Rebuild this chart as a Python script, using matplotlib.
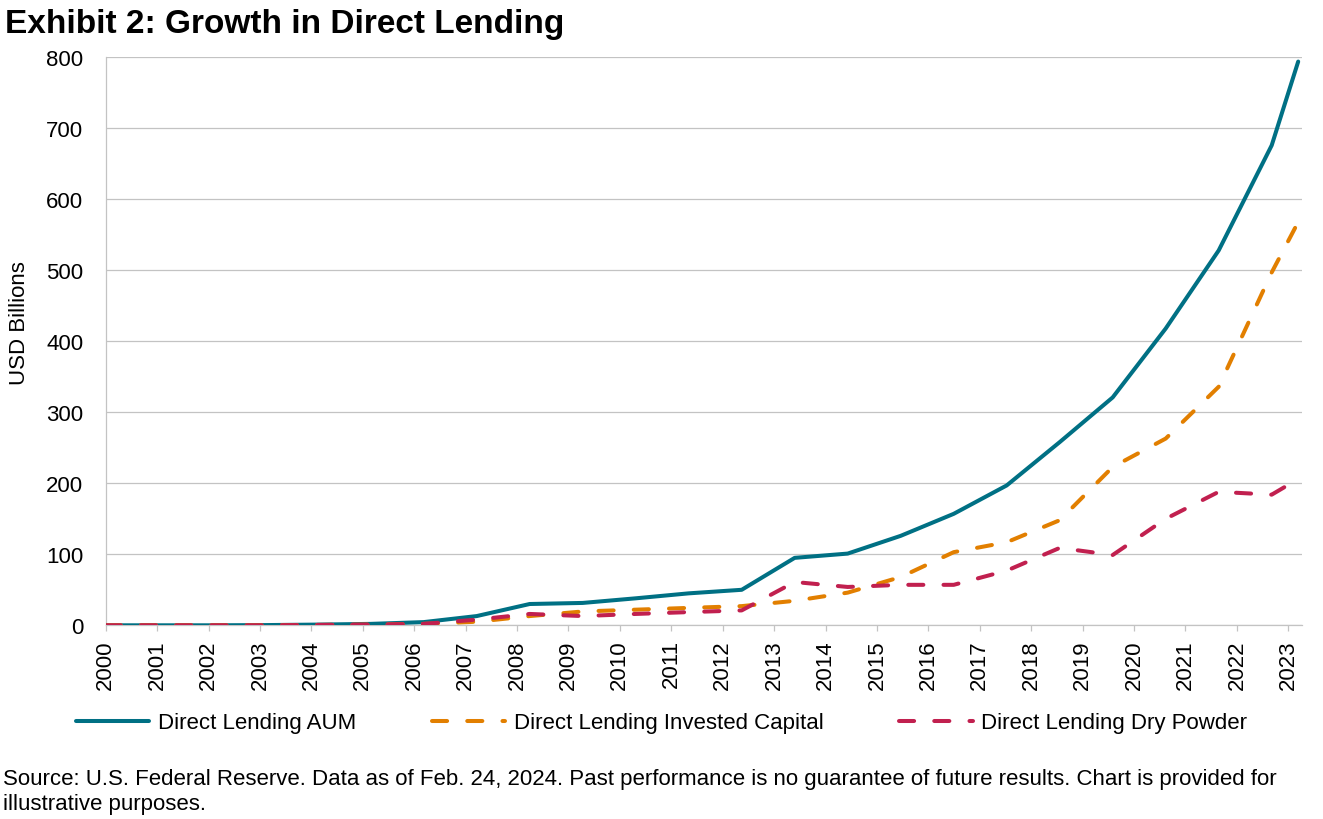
import matplotlib
matplotlib.use("Agg")
import matplotlib.pyplot as plt
import numpy as np

# ---- data ----
obs_year = [2000, 2001, 2002, 2003, 2004, 2005, 2006, 2007, 2008, 2009, 2010, 2011,
            2012, 2013, 2014, 2015, 2016, 2017, 2018, 2019, 2020, 2021, 2022, 2022.5]
aum = [0, 0, 0, 0.3, 1, 2, 4.5, 13, 30, 31.5, 38, 45,
       50, 95, 101, 126, 157, 197, 258, 321, 418, 528, 676, 794]
invested = [0, 0, 0, 0, 0.5, 1, 2, 5, 13, 19.5, 22, 24.5,
            27, 34.5, 46, 68, 103, 117, 148, 223, 263, 336, 497, 568]
dry_powder = [0, 0, 0, 0, 0.5, 1, 2, 8, 16, 13, 16, 18.6,
              21, 61, 54, 57, 57, 77, 109, 99, 150, 188, 184, 206]
tick_years = list(range(2000, 2024))
y_ticks = list(range(0, 801, 100))

series_names = ["Direct Lending AUM", "Direct Lending Invested Capital", "Direct Lending Dry Powder"]
title = "Exhibit 2: Growth in Direct Lending"
y_label = "USD Billions"
source_lines = ["Source: U.S. Federal Reserve. Data as of Feb. 24, 2024. Past performance is no guarantee of future results. Chart is provided for",
                "illustrative purposes."]

TEAL = "#007084"
ORANGE = "#E27F00"
MAGENTA = "#C1204F"
GRID = "#C3C3C3"

plt.rcParams['font.family'] = ['Liberation Sans', 'DejaVu Sans']

W, H = 1323, 820
fig = plt.figure(figsize=(W / 100, H / 100), dpi=100)
left_px, right_px, top_px, bottom_px = 105.7, 1301.7, 58.3, 626.3
ax = fig.add_axes([left_px / W, 1 - bottom_px / H, (right_px - left_px) / W, (bottom_px - top_px) / H])

lw = 2.9
ax.plot(obs_year, aum, color=TEAL, lw=lw, solid_capstyle='round', solid_joinstyle='round',
        label=series_names[0], zorder=3)
ax.plot(obs_year, invested, color=ORANGE, lw=lw, dashes=(3.75, 5), dash_capstyle='round',
        dash_joinstyle='round', label=series_names[1], zorder=4)
ax.plot(obs_year, dry_powder, color=MAGENTA, lw=lw, dashes=(3.75, 5), dash_capstyle='round',
        dash_joinstyle='round', label=series_names[2], zorder=5)

px_per_year = 53.0
ax.set_xlim(2000, 2000 + (right_px - left_px) / px_per_year)
ax.set_ylim(0, 800)
ax.set_yticks(y_ticks)
tick_step = (1288.3 - left_px) / px_per_year / (len(tick_years) - 1)
tick_pos = 2000 + np.arange(len(tick_years)) * tick_step
ax.set_xticks(tick_pos)
ax.set_xticklabels([str(y) for y in tick_years], rotation=90)

ax.grid(axis='y', color=GRID, lw=0.9)
ax.set_axisbelow(True)
for s in ['top', 'right']:
    ax.spines[s].set_visible(False)
for s in ['left', 'bottom']:
    ax.spines[s].set_color(GRID)
    ax.spines[s].set_linewidth(0.9)
ax.tick_params(axis='y', length=0, pad=16, labelsize=16)
ax.tick_params(axis='x', length=4, color=GRID, width=0.9, pad=6, labelsize=16)

fig.text(5 / W, 1 - 33 / H, title, fontsize=24, fontweight='bold', va='baseline', ha='left')
fig.text(20 / W, 1 - 323 / H, y_label, fontsize=16, rotation=90, va='center', ha='center')

handles, labels = ax.get_legend_handles_labels()
fig.legend(handles, labels, loc='center', bbox_to_anchor=(0.5, 1 - 724 / H), ncol=3,
           frameon=False, fontsize=16, handlelength=3.3, handletextpad=0.4, columnspacing=3.4)

fig.text(3 / W, 1 - 785 / H, source_lines[0], fontsize=16, va='baseline', ha='left')
fig.text(3 / W, 1 - 810 / H, source_lines[1], fontsize=16, va='baseline', ha='left')

fig.savefig("out.png", dpi=100)
